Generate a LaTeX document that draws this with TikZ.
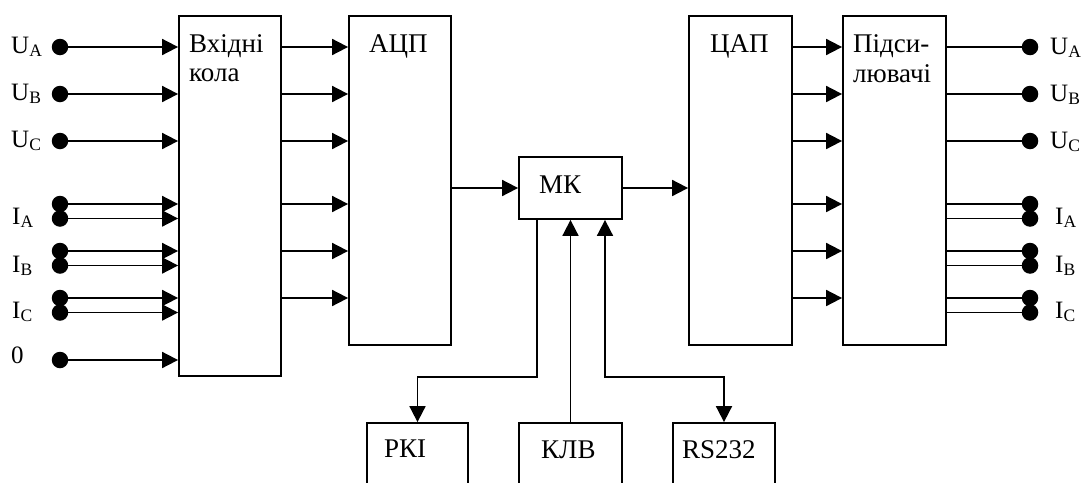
\documentclass[tikz,border=0pt]{standalone}
\usepackage{fontspec}
\setmainfont{Liberation Serif}
\usetikzlibrary{positioning, arrows.meta, calc}

\begin{document}
\begin{tikzpicture}[x=1pt, y=-1pt,
  blok/.style={draw, line width=1.8pt, inner sep=0pt},
  dot/.style={circle, fill, inner sep=0pt, minimum size=16.5pt},
  txt/.style={anchor=base west, inner sep=0pt, font=\fontsize{27}{32}\selectfont},
  lbl/.style={anchor=base west, inner sep=0pt, font=\fontsize{25}{30}\selectfont},
  ln/.style={line width=1.8pt},
  arr/.style={line width=1.8pt, -{Triangle[length=16pt, width=16pt]}},
  darr/.style={line width=1.8pt, {Triangle[length=16pt, width=16pt]}-{Triangle[length=16pt, width=16pt]}}]
  \useasboundingbox (0,0) rectangle (1086,482);
  \clip (0,0) rectangle (1086,482);

  % Blocks
  \node[blok, minimum width=102pt, minimum height=360pt] (vk) at (230,196) {};
  \node[blok, minimum width=102pt, minimum height=329pt] (adc) at (400,180.5) {};
  \node[blok, minimum width=103pt, minimum height=62pt] (mk) at (570.5,188) {};
  \node[blok, minimum width=103pt, minimum height=329pt] (dac) at (740.5,180.5) {};
  \node[blok, minimum width=103pt, minimum height=329pt] (amp) at (894.5,180.5) {};
  \node[blok, minimum width=101pt, minimum height=100pt] (rki) at (417.5,473) {};
  \node[blok, minimum width=103pt, minimum height=100pt] (klv) at (570.5,473) {};
  \node[blok, minimum width=102pt, minimum height=100pt] (rs) at (724,473) {};

  \node[txt] (vk1) at (189,52) {Вхідні};
  \node[txt] (vk2) at (189,81) {кола};
  \node[txt] (adct) at (369,52) {АЦП};
  \node[txt] (mkt) at (539,193) {МК};
  \node[txt] (dact) at (710,52) {ЦАП};
  \node[txt] (amp1) at (853,52) {Підси-};
  \node[txt] (amp2) at (853,82) {лювачі};
  \node[txt] (rkit) at (384,457) {РКІ};
  \node[txt] (klvt) at (541,458) {КЛВ};
  \node[txt] (rst) at (682,458) {RS232};

  % Inputs and outputs
  \foreach \y/\n in {47/ua, 94/ub, 141/uc, 204/iaa, 218.5/iab, 251/iba, 265.5/ibb, 298/ica, 312.5/icb, 360/zero} {
    \node[dot] (in\n) at (60,\y) {};
    \draw[arr] (in\n) -- (vk.west |- in\n);
  }
  \foreach \y/\n in {47/ua, 94/ub, 141/uc, 204/iaa, 218.5/iab, 251/iba, 265.5/ibb, 298/ica, 312.5/icb} {
    \node[dot] (out\n) at (1030,\y) {};
    \draw[ln] (amp.east |- out\n) -- (out\n);
  }
  \foreach \n in {ua, ub, uc, iaa, iba, ica} {
    \draw[arr] (vk.east |- in\n) -- (adc.west |- in\n);
    \draw[arr] (dac.east |- in\n) -- (amp.west |- in\n);
  }

  \node[lbl] (lua) at (11,53) {U\textsubscript{A}};
  \node[lbl] (lub) at (11,100) {U\textsubscript{B}};
  \node[lbl] (luc) at (11,147) {U\textsubscript{C}};
  \node[lbl] (lia) at (12,224) {I\textsubscript{A}};
  \node[lbl] (lib) at (12,272) {I\textsubscript{B}};
  \node[lbl] (lic) at (12,318) {I\textsubscript{C}};
  \node[lbl] (lzero) at (11,363) {0};
  \node[lbl] (rua) at (1050,54) {U\textsubscript{A}};
  \node[lbl] (rub) at (1050,101) {U\textsubscript{B}};
  \node[lbl] (ruc) at (1050,148) {U\textsubscript{C}};
  \node[lbl] (ria) at (1055,224) {I\textsubscript{A}};
  \node[lbl] (rib) at (1055,272) {I\textsubscript{B}};
  \node[lbl] (ric) at (1055,318) {I\textsubscript{C}};

  % MK links
  \draw[arr] (adc.east |- mk) -- (mk.west);
  \draw[arr] (mk.east) -- (dac.west |- mk);
  \draw[arr] ([xshift=-33.5pt]mk.south) -- ++(0,157) -| (rki.north);
  \draw[arr] (klv.north) -- (mk.south);
  \draw[darr] ([xshift=34.5pt]mk.south) -- ++(0,157) -| (rs.north);
\end{tikzpicture}
\end{document}
